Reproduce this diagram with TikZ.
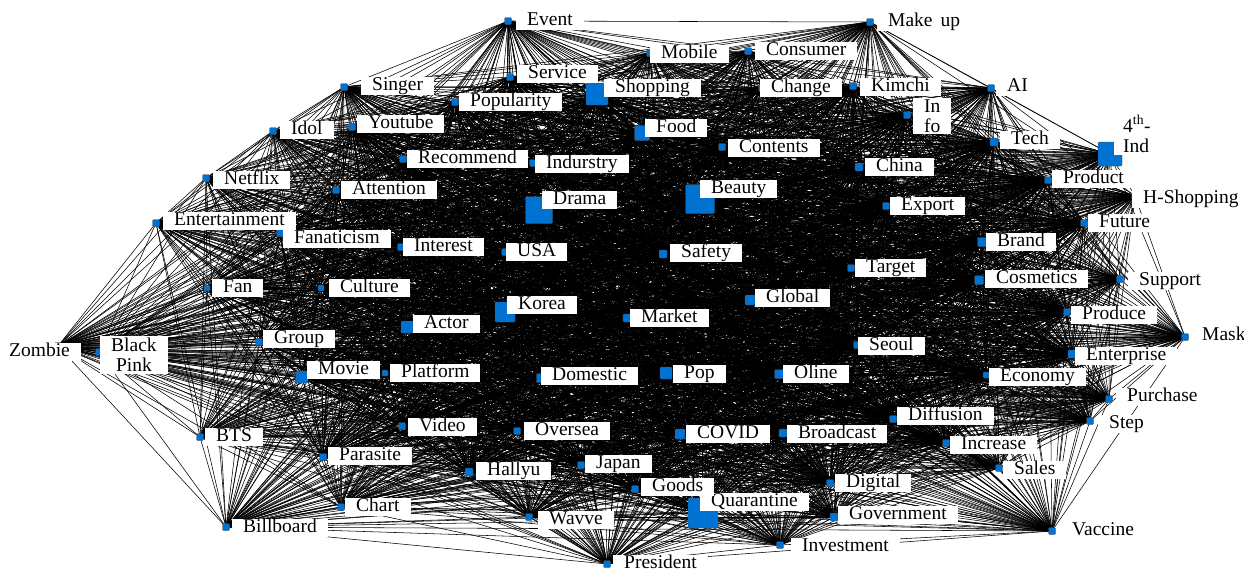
\documentclass[tikz,border=0pt]{standalone}
\usepackage{fontspec}
\setmainfont{Liberation Serif}
\usetikzlibrary{backgrounds}
\definecolor{sqblue}{RGB}{0,114,210}
\tikzset{
  sq/.style={draw=black!70, line width=0.3pt, fill=sqblue, rounded corners=1pt, inner sep=0pt, minimum size=#1},
  lab/.style={fill=white, anchor=west, inner xsep=11pt, inner ysep=1pt, text height=12.5pt, text depth=4pt,
              font=\fontsize{19.5}{20}\selectfont},
  lab2/.style={fill=white, anchor=west, inner xsep=11pt, inner ysep=2pt, align=center,
              font=\fontsize{19.5}{20}\selectfont},
  edge/.style={black, line width=0.55pt},
  coreedge/.style={black, line width=0.5pt}
}
\newcommand\kw[4]{\node[sq=#4pt] (#1) at (#2,#3) {};}
\def\nodelist{Event,MakeUp,Mobile,Consumer,Service,Shopping,Popularity,Singer,Youtube,Idol,Netflix,Attention,Recommend,Indurstry,Food,Contents,Change,Kimchi,InFo,AI,Tech,FourthInd,China,Product,HShopping,Entertainment,Fanaticism,Interest,USA,Drama,Beauty,Safety,Export,Brand,Future,Target,Cosmetics,Support,Culture,Fan,Global,Korea,Market,Actor,Produce,Mask,Group,BlackPink,Zombie,Seoul,Movie,Platform,Domestic,Pop,Oline,Enterprise,Economy,Purchase,Step,Diffusion,Broadcast,Increase,Sales,Digital,Government,Vaccine,Investment,Quarantine,Goods,Japan,Hallyu,Wavve,President,Oversea,COVID,Video,BTS,Parasite,Chart,Billboard}
\def\corelist{Service,Shopping,Popularity,Youtube,Recommend,Indurstry,Food,Contents,Kimchi,InFo,Tech,China,Product,Attention,Fanaticism,Interest,USA,Drama,Beauty,Safety,Export,Brand,Future,Target,Cosmetics,Culture,Fan,Global,Korea,Market,Actor,Produce,Group,Seoul,Movie,Platform,Domestic,Pop,Oline,Enterprise,Economy,Diffusion,Broadcast,Increase,Oversea,COVID,Video,Parasite,Hallyu,Japan,Goods,Digital,Quarantine}
\begin{document}
\begin{tikzpicture}[x=1pt,y=-1pt]
\useasboundingbox (0,0) rectangle (1244,573);
% squares
\kw{Event}{508}{21}{7}
\kw{MakeUp}{870}{22}{7}
\kw{Mobile}{650}{53}{7}
\kw{Consumer}{748}{51}{7}
\kw{Service}{510}{77}{7}
\kw{Shopping}{597}{94}{22}
\kw{Popularity}{455}{102}{7}
\kw{Singer}{344}{87}{7}
\kw{Youtube}{352}{127}{7}
\kw{Idol}{273}{131}{7}
\kw{Netflix}{206}{178}{7}
\kw{Attention}{336}{190}{7}
\kw{Recommend}{403}{159}{7}
\kw{Indurstry}{533}{163}{7}
\kw{Food}{642}{133}{15}
\kw{Contents}{722}{147}{7}
\kw{Change}{762}{88}{7}
\kw{Kimchi}{853}{86}{7}
\kw{InFo}{907}{115}{7}
\kw{AI}{991}{88}{7}
\kw{Tech}{994}{142}{8}
\kw{FourthInd}{1110}{154}{24}
\kw{China}{859}{167}{8}
\kw{Product}{1048}{180}{7}
\kw{HShopping}{1135}{196}{7}
\kw{Entertainment}{156}{223}{7}
\kw{Fanaticism}{280}{233}{7}
\kw{Interest}{401}{247}{7}
\kw{USA}{505}{252}{7}
\kw{Drama}{539}{210}{27}
\kw{Beauty}{700}{199}{29}
\kw{Safety}{663}{254}{8}
\kw{Export}{886}{206}{7}
\kw{Brand}{982}{242}{9}
\kw{Future}{1084}{223}{7}
\kw{Target}{851}{268}{7}
\kw{Cosmetics}{979}{280}{9}
\kw{Support}{1120}{279}{7}
\kw{Culture}{321}{288}{6}
\kw{Fan}{207}{288}{6}
\kw{Global}{750}{300}{10}
\kw{Korea}{505}{312}{20}
\kw{Market}{627}{318}{8}
\kw{Actor}{407}{327}{12}
\kw{Produce}{1067}{312}{7}
\kw{Mask}{1185}{337}{7}
\kw{Group}{259}{342}{7}
\kw{BlackPink}{99}{352}{7}
\kw{Zombie}{58}{346}{7}
\kw{Seoul}{857}{345}{7}
\kw{Movie}{302}{377}{12}
\kw{Platform}{385}{373}{6}
\kw{Domestic}{541}{378}{9}
\kw{Pop}{666}{373}{12}
\kw{Oline}{779}{374}{9}
\kw{Enterprise}{1072}{354}{8}
\kw{Economy}{986}{375}{6}
\kw{Purchase}{1109}{399}{7}
\kw{Step}{1090}{421}{7}
\kw{Diffusion}{893}{419}{7}
\kw{Broadcast}{783}{433}{8}
\kw{Increase}{946}{443}{7}
\kw{Sales}{999}{468}{7}
\kw{Digital}{830}{483}{7}
\kw{Government}{834}{517}{8}
\kw{Vaccine}{1052}{531}{7}
\kw{Investment}{780}{545}{7}
\kw{Quarantine}{703}{513}{30}
\kw{Goods}{635}{489}{7}
\kw{Japan}{581}{465}{7}
\kw{Hallyu}{469}{472}{8}
\kw{Wavve}{529}{517}{7}
\kw{President}{607}{564}{7}
\kw{Oversea}{517}{431}{7}
\kw{COVID}{680}{434}{10}
\kw{Video}{402}{426}{7}
\kw{BTS}{200}{437}{7}
\kw{Parasite}{323}{457}{7}
\kw{Chart}{341}{507}{7}
\kw{Billboard}{226}{527}{7}
% connectors
\begin{pgfonlayer}{background}
\fill[white] (0,0) rectangle (1244,573);
\foreach \a [count=\i] in \nodelist {
  \foreach \b [count=\j] in \nodelist {
    \ifnum\j>\i \draw[edge] (\a.center) -- (\b.center); \fi
  }
}
\foreach \a [count=\i] in \corelist {
  \foreach \b [count=\j] in \corelist {
    \ifnum\j>\i \draw[coreedge] (\a.center) -- (\b.center); \fi
  }
}
\end{pgfonlayer}
% labels
\node[lab] (Event-l) at (516,21) {Event};
\node[lab] (MakeUp-l) at (877,22) {Make\, up};
\node[lab] (Mobile-l) at (650,54) {Mobile};
\node[lab] (Consumer-l) at (755,51) {Consumer};
\node[lab] (Service-l) at (517,74) {Service};
\node[lab] (Shopping-l) at (604,88) {Shopping};
\node[lab] (Popularity-l) at (459,102) {Popularity};
\node[lab] (Singer-l) at (361,86) {Singer};
\node[lab] (Youtube-l) at (357,124) {Youtube};
\node[lab] (Idol-l) at (280,130) {Idol};
\node[lab] (Netflix-l) at (213,180) {Netflix};
\node[lab] (Attention-l) at (341,190) {Attention};
\node[lab] (Recommend-l) at (407,159) {Recommend};
\node[lab] (Indurstry-l) at (535,164) {Indurstry};
\node[lab] (Food-l) at (645,128) {Food};
\node[lab] (Contents-l) at (728,148) {Contents};
\node[lab] (Change-l) at (760,88) {Change};
\node[lab] (Kimchi-l) at (860,87) {Kimchi};
\node[lab2] (InFo-l) at (913,116) {In\\fo};
\node[lab] (AI-l) at (996,87) {AI};
\node[lab] (Tech-l) at (1000,140) {Tech};
\node[lab2, align=left, inner xsep=9pt] (FourthInd-l) at (1114,134) {4\textsuperscript{th}-\\Ind};
\node[lab] (China-l) at (865,167) {China};
\node[lab] (Product-l) at (1052,179) {Product};
\node[lab] (HShopping-l) at (1132,199) {H-Shopping};
\node[lab] (Entertainment-l) at (163,221) {Entertainment};
\node[lab] (Fanaticism-l) at (283,239) {Fanaticism};
\node[lab] (Interest-l) at (403,247) {Interest};
\node[lab] (USA-l) at (506,252) {USA};
\node[lab] (Drama-l) at (542,200) {Drama};
\node[lab] (Beauty-l) at (700,189) {Beauty};
\node[lab] (Safety-l) at (670,253) {Safety};
\node[lab] (Export-l) at (890,206) {Export};
\node[lab] (Brand-l) at (986,242) {Brand};
\node[lab] (Future-l) at (1088,223) {Future};
\node[lab] (Target-l) at (855,268) {Target};
\node[lab] (Cosmetics-l) at (985,279) {Cosmetics};
\node[lab] (Support-l) at (1128,281) {Support};
\node[lab] (Culture-l) at (329,288) {Culture};
\node[lab] (Fan-l) at (212,288) {Fan};
\node[lab] (Global-l) at (755,298) {Global};
\node[lab] (Korea-l) at (507,305) {Korea};
\node[lab] (Market-l) at (630,318) {Market};
\node[lab] (Actor-l) at (413,324) {Actor};
\node[lab] (Produce-l) at (1071,315) {Produce};
\node[lab] (Mask-l) at (1191,336) {Mask};
\node[lab] (Group-l) at (263,339) {Group};
\node[lab2] (BlackPink-l) at (100,355) {Black\\Pink};
\node[lab] (Zombie-l) at (-2,352) {Zombie};
\node[lab] (Seoul-l) at (858,346) {Seoul};
\node[lab] (Movie-l) at (307,370) {Movie};
\node[lab] (Platform-l) at (390,373) {Platform};
\node[lab] (Domestic-l) at (541,376) {Domestic};
\node[lab] (Pop-l) at (673,374) {Pop};
\node[lab] (Oline-l) at (783,374) {Oline};
\node[lab] (Enterprise-l) at (1075,356) {Enterprise};
\node[lab] (Economy-l) at (989,377) {Economy};
\node[lab] (Purchase-l) at (1116,397) {Purchase};
\node[lab] (Step-l) at (1098,424) {Step};
\node[lab] (Diffusion-l) at (897,416) {Diffusion};
\node[lab] (Broadcast-l) at (787,434) {Broadcast};
\node[lab] (Increase-l) at (950,445) {Increase};
\node[lab] (Sales-l) at (1003,470) {Sales};
\node[lab] (Digital-l) at (835,483) {Digital};
\node[lab] (Government-l) at (838,515) {Government};
\node[lab] (Vaccine-l) at (1061,531) {Vaccine};
\node[lab] (Investment-l) at (791,547) {Investment};
\node[lab] (Quarantine-l) at (700,502) {Quarantine};
\node[lab] (Goods-l) at (641,487) {Goods};
\node[lab] (Japan-l) at (585,464) {Japan};
\node[lab] (Hallyu-l) at (476,471) {Hallyu};
\node[lab] (Wavve-l) at (538,520) {Wavve};
\node[lab] (President-l) at (613,564) {President};
\node[lab] (Oversea-l) at (524,431) {Oversea};
\node[lab] (COVID-l) at (686,434) {COVID};
\node[lab] (Video-l) at (408,427) {Video};
\node[lab] (BTS-l) at (205,437) {BTS};
\node[lab] (Parasite-l) at (328,456) {Parasite};
\node[lab] (Chart-l) at (345,507) {Chart};
\node[lab] (Billboard-l) at (232,528) {Billboard};
\end{tikzpicture}
\end{document}
